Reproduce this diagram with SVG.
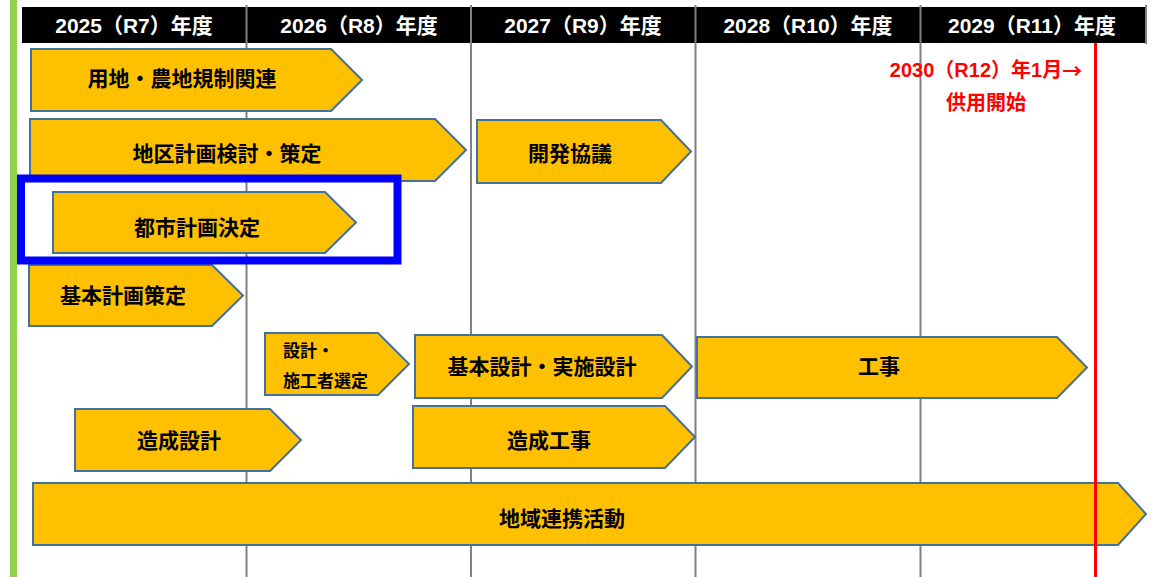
<svg xmlns="http://www.w3.org/2000/svg" width="1164" height="577" viewBox="0 0 1164 577">
<style>
.grid{stroke:#808080;stroke-width:2;fill:none}
.bar{fill:#FFC000;stroke:#41719C;stroke-width:2;stroke-linejoin:miter}
.lbl{font-family:"Liberation Sans","Noto Sans CJK JP",sans-serif;font-weight:bold;font-size:21px;fill:#000;text-anchor:middle;dominant-baseline:central}
.sm{font-family:"Liberation Sans","Noto Sans CJK JP",sans-serif;font-weight:bold;font-size:17px;fill:#000;dominant-baseline:central}
.hd{font-family:"Liberation Sans","Noto Sans CJK JP",sans-serif;font-weight:bold;font-size:21px;fill:#fff;text-anchor:middle;dominant-baseline:central}
.red{font-family:"Liberation Sans","Noto Sans CJK JP",sans-serif;font-weight:bold;font-size:20px;fill:#FF0000;text-anchor:middle;dominant-baseline:central}
.cjk{font-family:"Noto Sans CJK JP",sans-serif}
</style>
<rect width="1164" height="577" fill="#fff"/>
<rect x="10" y="0" width="7" height="577" fill="#92D050"/>
<g id="header">
<rect x="22" y="7" width="1123" height="36" fill="#000"/>
<line x1="1146" y1="5" x2="1146" y2="44" stroke="#808080" stroke-width="2"/>
</g>
<g id="grid">
<line class="grid" x1="246.5" y1="5" x2="246.5" y2="577"/>
<line class="grid" x1="471" y1="5" x2="471" y2="577"/>
<line class="grid" x1="695.5" y1="5" x2="695.5" y2="577"/>
<line class="grid" x1="920.5" y1="5" x2="920.5" y2="577"/>
</g>
<g id="header-text">
<text class="hd" x="134" y="25">2025（R7）年度</text>
<text class="hd" x="359" y="25">2026（R8）年度</text>
<text class="hd" x="583" y="25">2027（R9）年度</text>
<text class="hd" x="808" y="25">2028（R10）年度</text>
<text class="hd" x="1032" y="25">2029（R11）年度</text>
</g>
<g id="n1"><path class="bar" d="M31 49H331L362 80L331 111H31Z"/><text class="lbl" x="182" y="78">用地・農地規制関連</text></g>
<g id="n2"><path class="bar" d="M30 119H435L466 150L435 181H30Z"/><text class="lbl" x="227" y="153">地区計画検討・策定</text></g>
<g id="n3"><path class="bar" d="M477 120H661L691 151.5L661 183H477Z"/><text class="lbl" x="570" y="153">開発協議</text></g>
<g id="n4"><path class="bar" d="M53 192H325L356 222.5L325 253H53Z"/><text class="lbl" x="197" y="227">都市計画決定</text></g>
<g id="n5"><path class="bar" d="M29 265H212L243 295.5L212 326H29Z"/><text class="lbl" x="123" y="295">基本計画策定</text></g>
<g id="n6"><path class="bar" d="M265 333H378L409 364L378 395H265Z"/><text class="sm" x="283" y="351">設計・</text><text class="sm" x="283" y="381">施工者選定</text></g>
<g id="n7"><path class="bar" d="M415 335H662L692 366.5L662 398H415Z"/><text class="lbl" x="542" y="366">基本設計・実施設計</text></g>
<g id="n8"><path class="bar" d="M697 337H1057L1087 367.5L1057 398H697Z"/><text class="lbl" x="879" y="366">工事</text></g>
<g id="n9"><path class="bar" d="M75 409H270L301 440L270 471H75Z"/><text class="lbl" x="179" y="440">造成設計</text></g>
<g id="n10"><path class="bar" d="M413 406H665L695 437L665 468H413Z"/><text class="lbl" x="549" y="440">造成工事</text></g>
<g id="n11"><path class="bar" d="M33 483H1118L1146 514L1118 545H33Z"/><text class="lbl" x="562" y="518">地域連携活動</text></g>
<g id="highlight"><rect x="21" y="178.5" width="376.5" height="82" fill="none" stroke="#0000FF" stroke-width="8"/></g>
<g id="connectors"><line x1="1095.5" y1="43" x2="1095.5" y2="577" stroke="#FF0000" stroke-width="3"/></g>
<g id="milestone">
<text class="red" x="986" y="70">2030（R12）年1月<tspan class="cjk">→</tspan></text>
<text class="red" x="986" y="103">供用開始</text>
</g>
</svg>
